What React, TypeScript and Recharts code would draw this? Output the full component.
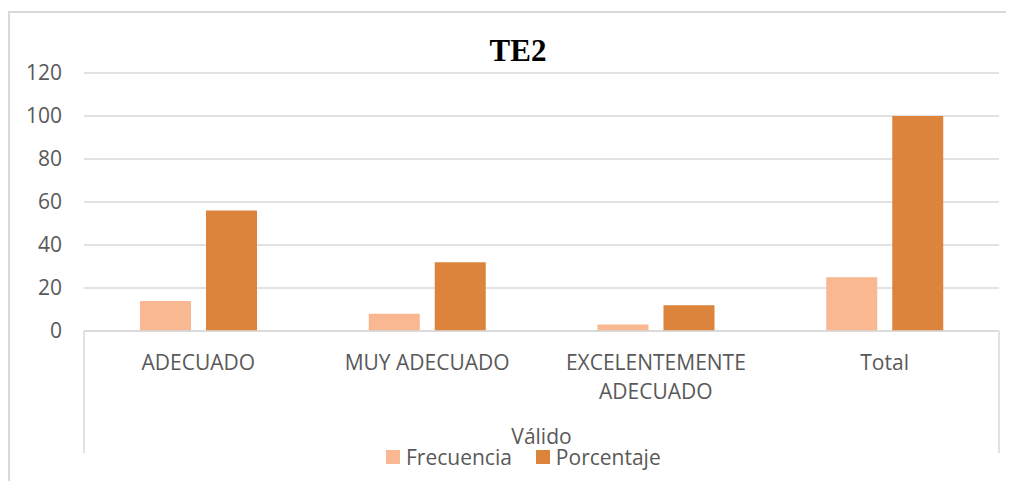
import { BarChart, Bar, XAxis, YAxis, CartesianGrid, Legend, usePlotArea } from 'recharts';

const categories = ['ADECUADO', 'MUY ADECUADO', 'EXCELENTEMENTE ADECUADO', 'Total'];
const frecuencia = [14, 8, 3, 25];
const porcentaje = [56, 32, 12, 100];
const yTicks = [0, 20, 40, 60, 80, 100, 120];
const groupLabel = 'Válido';
const title = 'TE2';

const seriesNames = { frecuencia: 'Frecuencia', porcentaje: 'Porcentaje' };
const colors = { frecuencia: '#F9B792', porcentaje: '#DC843B' };

const chartData = categories.map((name, i) => ({
  name,
  frecuencia: frecuencia[i],
  porcentaje: porcentaje[i],
}));

const FONT = '"Open Sans", sans-serif';
const TEXT = '#595959';
const LINE = '#d9d9d9';
const FS = 21;

const CategoryTick = (props: any) => {
  const { x, y, payload } = props;
  const words = String(payload.value);
  const lines = words.length > 16 ? words.split(' ') : [words];
  return (
    <text x={x} y={y} textAnchor="middle" fill={TEXT} fontFamily={FONT} fontSize={FS}>
      {lines.map((l, i) => (
        <tspan key={i} x={x} dy={i === 0 ? 39 : 29}>{l}</tspan>
      ))}
    </text>
  );
};

// group bracket lines + group label + title
const Extras = () => {
  const plot = usePlotArea();
  if (!plot) return null;
  const bottom = plot.y + plot.height;
  return (
    <g>
      <line x1={plot.x} x2={plot.x} y1={bottom} y2={bottom + 122} stroke={LINE} strokeWidth={1.5} />
      <line x1={plot.x + plot.width} x2={plot.x + plot.width} y1={bottom} y2={bottom + 122} stroke={LINE} strokeWidth={1.5} />
      <text x={plot.x + plot.width / 2} y={bottom + 113} textAnchor="middle" fill={TEXT} fontFamily={FONT} fontSize={FS}>
        {groupLabel}
      </text>
      <text x={510} y={53} textAnchor="middle" fontFamily='"Liberation Serif", "Times New Roman", serif' fontWeight="bold" fontSize={31} fill="#000">
        {title}
      </text>
    </g>
  );
};

const LegendContent = () => (
  <div style={{ height: 24, paddingLeft: 378, display: 'flex', alignItems: 'center', fontFamily: FONT, fontSize: FS, color: TEXT }}>
    {(['frecuencia', 'porcentaje'] as const).map((k, i) => (
      <span key={k} style={{ display: 'flex', alignItems: 'center', marginRight: i === 0 ? 24 : 0 }}>
        <span style={{ width: 14, height: 14, background: colors[k], marginRight: 6, display: 'inline-block' }} />
        {seriesNames[k]}
      </span>
    ))}
  </div>
);

export default function App() {
  return (
    <div style={{ position: 'relative', width: 1006, height: 473 }}>
      <div style={{ position: 'absolute', boxSizing: 'border-box', left: 0, top: 3, width: 1006, height: 470, borderTop: `2px solid ${LINE}`, borderLeft: `2px solid ${LINE}` }} />
      <BarChart
        width={1006}
        height={473}
        data={chartData}
        margin={{ top: 65, right: 15, left: 0, bottom: 12 }}
        barSize={51}
        barGap={15}
      >
        <CartesianGrid vertical={false} stroke={LINE} strokeWidth={1.5} />
        <XAxis
          dataKey="name"
          height={114}
          tickLine={false}
          tickSize={0}
          tickMargin={0}
          axisLine={{ stroke: LINE, strokeWidth: 1.5 }}
          tick={<CategoryTick />}
          interval={0}
        />
        <YAxis
          width={76}
          domain={[0, 120]}
          ticks={yTicks}
          axisLine={false}
          tickLine={false}
          tickSize={0}
          tickMargin={22}
          tick={{ fill: TEXT, fontFamily: FONT, fontSize: FS }}
        />
        <Legend verticalAlign="bottom" wrapperStyle={{ left: 0, width: 1006, bottom: 12 }} content={<LegendContent />} />
        <Bar dataKey="frecuencia" name={seriesNames.frecuencia} fill={colors.frecuencia} isAnimationActive={false} />
        <Bar dataKey="porcentaje" name={seriesNames.porcentaje} fill={colors.porcentaje} isAnimationActive={false} />
        <Extras />
      </BarChart>
    </div>
  );
}
